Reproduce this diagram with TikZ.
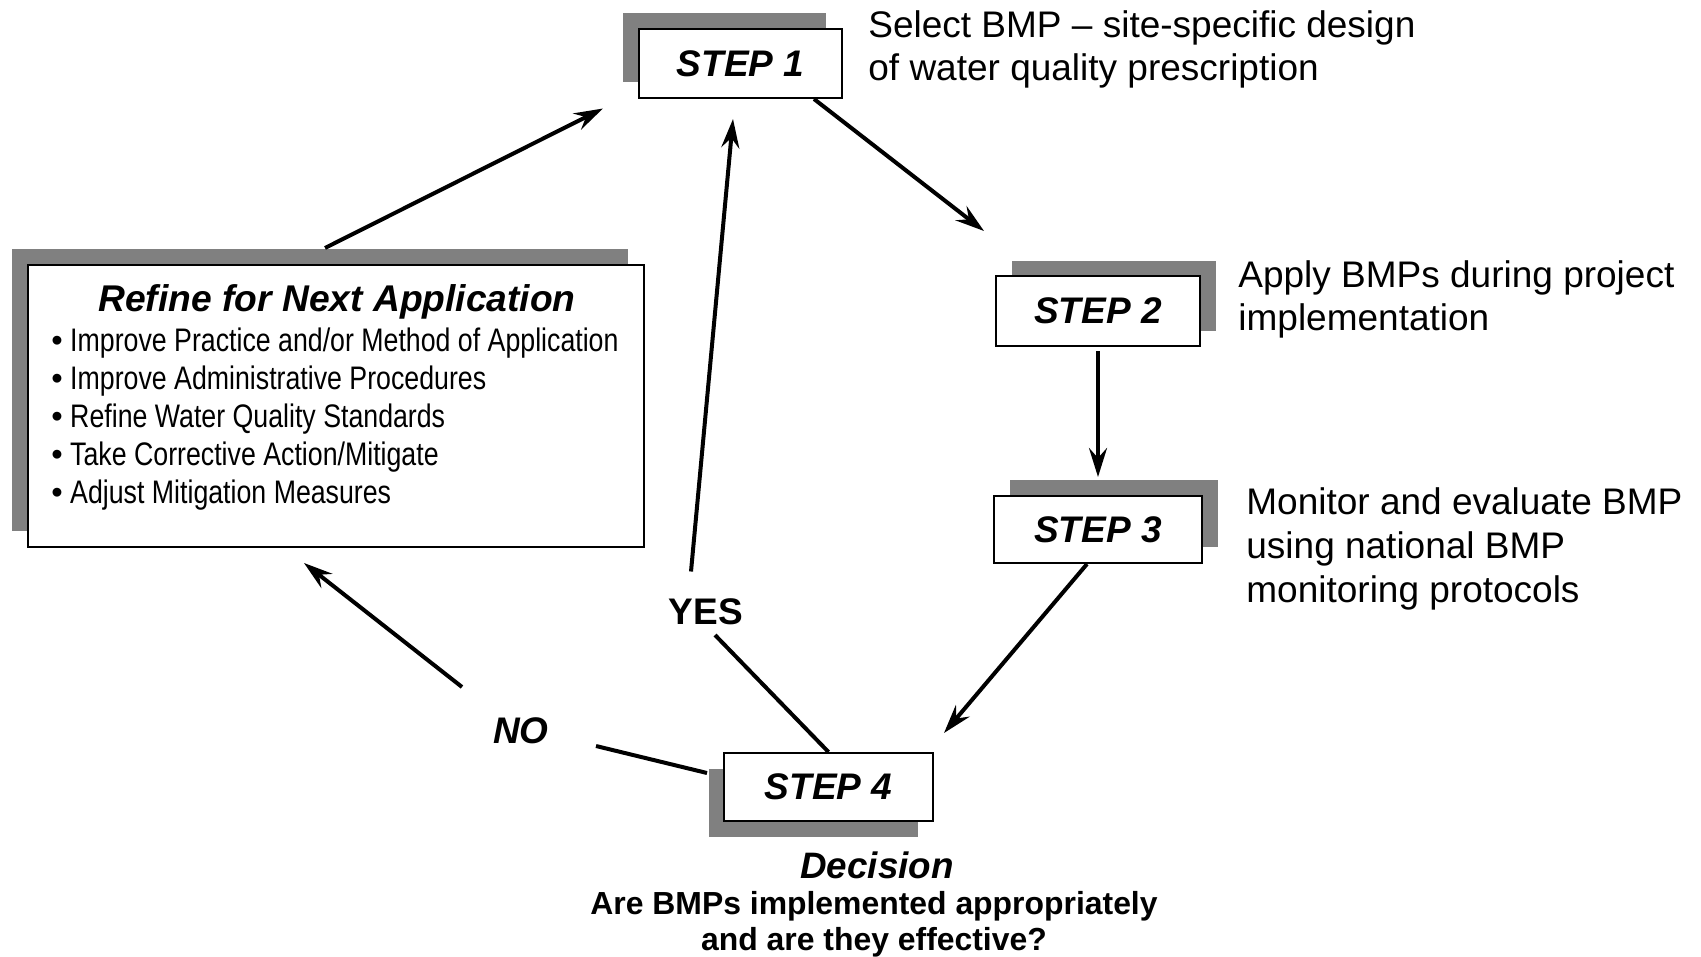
\documentclass[tikz,border=0pt]{standalone}
\usepackage{fontspec}
\setmainfont{Liberation Sans}
\newfontfamily\narrowfont[FakeStretch=0.82]{Liberation Sans}
\usetikzlibrary{arrows.meta,shadows}

\definecolor{shadowgray}{RGB}{128,128,128}
\newcommand{\dotitem}{{\normalfont\textbullet}\ }

\tikzset{
  stepbox/.style={draw,line width=1pt,fill=white,inner sep=0pt,
    font=\fontsize{18.5}{22}\selectfont\bfseries\itshape},
  offset shadow/.style 2 args={general shadow={shadow xshift=#1,shadow yshift=#2,fill=shadowgray}},
  note/.style={anchor=west,align=left,inner sep=0pt,font=\fontsize{18.5}{21.8}\selectfont},
  flow/.style={line width=2pt,-{Stealth[length=14.5pt,width=9pt,inset=5pt]}},
  plain/.style={line width=2pt},
}

\begin{document}
\begin{tikzpicture}[x=0.5pt,y=-0.5pt]
\useasboundingbox (0,0) rectangle (1701,957);

% the four steps
\node[stepbox,offset shadow={-8pt}{8pt},minimum width=101.5pt,minimum height=34.5pt] (step1) at (740.5,63.5) {STEP 1};
\node[stepbox,offset shadow={8pt}{7.5pt},minimum width=102pt,minimum height=35pt] (step2) at (1098,311) {STEP 2};
\node[stepbox,offset shadow={8pt}{8pt},minimum width=104pt,minimum height=33.5pt] (step3) at (1098,529.5) {STEP 3};
\node[stepbox,offset shadow={-7.5pt}{-8pt},minimum width=104.5pt,minimum height=34pt] (step4) at (828.5,787) {STEP 4};

\node[note] (sel) at (868,49.5) {Select BMP -- site-specific design\\of water quality prescription};
\node[note] (app) at (1238,299.5) {Apply BMPs during project\\implementation};
\node[note] (mon) at (1246,549) {Monitor and evaluate BMP\\using national BMP\\monitoring protocols};

\node[inner sep=0pt,font=\fontsize{18.4}{22}\selectfont\bfseries\itshape] (dec) at (877,865) {Decision};
\node[inner sep=0pt,align=center,font=\fontsize{15.95}{17.9}\selectfont\bfseries] (ask) at (874,924) {Are BMPs implemented appropriately\\and are they effective?};

% refine box
\node[draw,line width=1pt,fill=white,offset shadow={-8pt}{8pt},minimum width=308pt,minimum height=141pt] (refine) at (336,406) {};
\node[inner sep=0pt,font=\fontsize{18.6}{22}\selectfont\bfseries\itshape] (rtitle) at (337,302) {Refine for Next Application};
\node[anchor=west,align=left,inner sep=0pt,font=\narrowfont\fontsize{16.3}{19}\selectfont] (rlist) at (51,419.5)
  {\dotitem Improve Practice and/or Method of Application\\
   \dotitem Improve Administrative Procedures\\
   \dotitem Refine Water Quality Standards\\
   \dotitem Take Corrective Action/Mitigate\\
   \dotitem Adjust Mitigation Measures};

\node[inner sep=0pt,font=\fontsize{18.5}{22}\selectfont\bfseries] (yes) at (706,612) {YES};
\node[inner sep=0pt,font=\fontsize{18.5}{22}\selectfont\bfseries\itshape] (no) at (521,731) {NO};

% arrow ends
\coordinate (tip1) at (603,108.5);
\coordinate (tip2) at (984,231);
\coordinate (tip3) at (1098,477);
\coordinate (tip4) at (944,733);
\coordinate (tip5) at (715,635);
\coordinate (tip6) at (733,119);
\coordinate (tip7) at (596,746);
\coordinate (tip8) at (304,563);

\draw[flow] ([xshift=-5.5pt,yshift=8pt]refine.north) -- (tip1);
\draw[flow] ([xshift=36.75pt]step1.south) -- (tip2);
\draw[flow] ([yshift=-2pt]step2.south) -- (tip3);
\draw[flow] ([xshift=-5.5pt]step3.south) -- (tip4);
\draw[plain] (step4.north) -- (tip5);
\draw[flow] ([shift={(-7.5pt,13.5pt)}]yes.north) -- (tip6);
\draw[plain] ([shift={(-8pt,7pt)}]step4.west) -- (tip7);
\draw[flow] ([shift={(-29.5pt,22pt)}]no.center) -- (tip8);
\end{tikzpicture}
\end{document}
